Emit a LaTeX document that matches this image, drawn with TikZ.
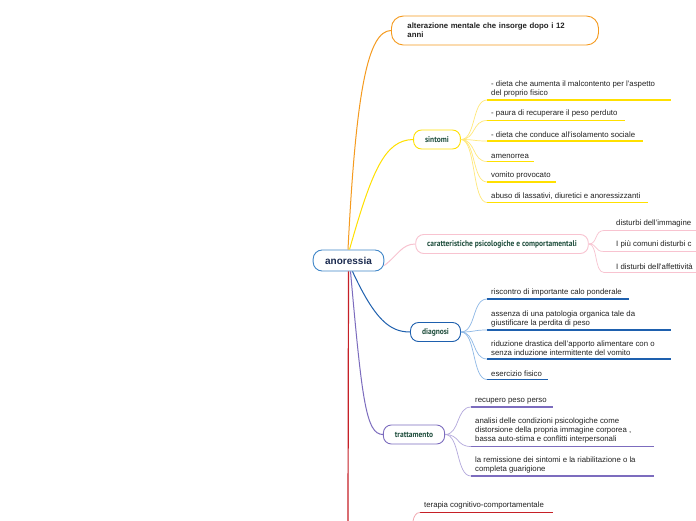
\documentclass[tikz,border=0pt]{standalone}
\usepackage{fontspec}
\setmainfont{Liberation Sans}
\newfontfamily\topicfont[FakeStretch=0.9]{PT Sans}
\definecolor{corange}{HTML}{F59A1E}
\definecolor{cyellow}{HTML}{FFE000}
\definecolor{cyellowl}{HTML}{FFE879}
\definecolor{cpink}{HTML}{F8C3D0}
\definecolor{cblue}{HTML}{1E60AE}
\definecolor{cbluel}{HTML}{8DB8E6}
\definecolor{cmain}{HTML}{3F86C8}
\definecolor{cpurple}{HTML}{7C6CBE}
\definecolor{cpurplel}{HTML}{B3A8DC}
\definecolor{cred}{HTML}{C62027}
\definecolor{credl}{HTML}{F0A0A8}
\definecolor{ctopic}{HTML}{1F4E3D}
\definecolor{cnavy}{HTML}{1A2A4F}
\definecolor{ctext}{HTML}{222222}
\tikzset{
  mainnode/.style={draw=cmain, line width=0.9pt, rounded corners=9pt, fill=white,
    minimum height=21pt, inner xsep=12pt, font=\fontsize{10}{12}\selectfont\bfseries, text=cnavy},
  topic/.style={rounded corners=8pt, fill=white, line width=0.9pt, minimum height=19pt,
    inner xsep=11.5pt, inner ysep=2pt, font=\topicfont\fontsize{8.3}{10}\selectfont\bfseries, text=ctopic},
  leaf/.style={anchor=south west, inner xsep=4pt, inner ysep=2.8pt, align=left,
    font=\fontsize{7.8}{9}\selectfont, text=ctext},
  uline/.style={line width=1.3pt},
  conn/.style={line width=0.7pt},
}
\begin{document}
\begin{tikzpicture}[x=1pt,y=-1pt]
\clip (0,0) rectangle (696,520);
\fill[white] (0,0) rectangle (696,520);

% main node
\node[mainnode] (main) at (348.5,260.5) {anoressia};

% first branch
\node[draw=corange, line width=0.9pt, rounded corners=12pt, anchor=west, minimum height=29pt,
  inner xsep=16pt, text width=175pt, align=left, font=\fontsize{7.8}{9}\selectfont\bfseries, text=ctext]
  (alt) at (391,30.5) {alterazione mentale che insorge dopo i 12\\anni};
\draw[corange, line width=1pt] ([xshift=-0.5pt]main.north) .. controls (356,90) and (368,31) .. (alt.west);

% sintomi
\node[topic, draw=cyellow] (sin) at (437,139.5) {sintomi};
\draw[cyellow, line width=1pt] ([xshift=1pt]main.north) .. controls (372,170) and (385,140) .. (sin.west);

\node[leaf] (s1) at (487,100) {- dieta che aumenta il malcontento per l'aspetto\\del proprio fisico};
\node[leaf] (s2) at (487,120.5) {- paura di recuperare il peso perduto};
\node[leaf] (s3) at (487,141) {- dieta che conduce all'isolamento sociale};
\node[leaf] (s4) at (487,161.5) {amenorrea};
\node[leaf] (s5) at (487,182) {vomito provocato};
\node[leaf] (s6) at (487,202.5) {abuso di lassativi, diuretici e anoressizzanti};
\foreach \n/\e in {s1/671,s2/625,s3/643,s4/534,s5/556,s6/648}{
  \draw[cyellow, uline] (\n.south west) -- (\e,0|-\n.south west);
  \draw[cyellowl, conn] (sin.east) .. controls (476,139.5) and (472,0|-\n.south west) .. (\n.south west);
}

% caratteristiche
\node[topic, draw=cpink] (car) at (502,244) {caratteristiche psicologiche e comportamentali};
\draw[cpink, line width=1pt] ([yshift=-5pt]main.east) .. controls (398,255) and (402,244) .. (car.west);
\node[leaf, inner xsep=12pt] (c1) at (604,230.5) {disturbi dell'immagine};
\node[leaf, inner xsep=12pt] (c2) at (604,251.5) {I più comuni disturbi c};
\node[leaf, inner xsep=12pt] (c3) at (604,272.5) {I disturbi dell'affettività};
\foreach \n in {c1,c2,c3}{
  \draw[cpink, uline] (\n.south west) -- (700,0|-\n.south west);
  \draw[cpink, conn] (car.east) .. controls (598,244) and (594,0|-\n.south west) .. (\n.south west);
}

% diagnosi
\node[topic, draw=cblue] (dia) at (435.5,332) {diagnosi};
\draw[cblue, line width=1pt] ([xshift=4pt]main.south) .. controls (375,320) and (390,332) .. (dia.west);
\node[leaf] (d1) at (487,299) {riscontro di importante calo ponderale};
\node[leaf] (d2) at (487,330) {assenza di una patologia organica tale da\\giustificare la perdita di peso};
\node[leaf] (d3) at (487,359) {riduzione drastica dell'apporto alimentare con o\\senza induzione intermittente del vomito};
\node[leaf] (d4) at (487,379.5) {esercizio fisico};
\foreach \n/\e in {d1/629,d2/671,d3/671,d4/548}{
  \draw[cblue, uline] (\n.south west) -- (\e,0|-\n.south west);
  \draw[cbluel, conn] (dia.east) .. controls (476,332) and (472,0|-\n.south west) .. (\n.south west);
}

% trattamento
\node[topic, draw=cpurple] (tra) at (414,434.5) {trattamento};
\draw[cpurple, line width=1pt] ([xshift=2pt]main.south) .. controls (362,400) and (366,434.5) .. (tra.west);
\node[leaf] (t1) at (471,407) {recupero peso perso};
\node[leaf] (t2) at (471,446.5) {analisi delle condizioni psicologiche come\\distorsione della propria immagine corporea ,\\bassa auto-stima e conflitti interpersonali};
\node[leaf] (t3) at (471,476) {la remissione dei sintomi e la riabilitazione o la\\completa guarigione};
\foreach \n/\e in {t1/553,t2/654,t3/654}{
  \draw[cpurple, uline] (\n.south west) -- (\e,0|-\n.south west);
  \draw[cpurplel, conn] (tra.east) .. controls (460,434.5) and (456,0|-\n.south west) .. (\n.south west);
}

% terapia (red)
\coordinate (redend) at (348,521);
\draw[cred, line width=1.2pt] (main.south) -- (redend);
\coordinate (tstart) at (413,521);
\node[leaf] (r1) at (420,512.5) {terapia cognitivo-comportamentale};
\draw[cred, uline] (r1.south west) -- (553,0|-r1.south west);
\draw[credl, conn] (tstart) .. controls (414,516) and (416,512.5) .. (r1.south west);
\end{tikzpicture}
\end{document}
